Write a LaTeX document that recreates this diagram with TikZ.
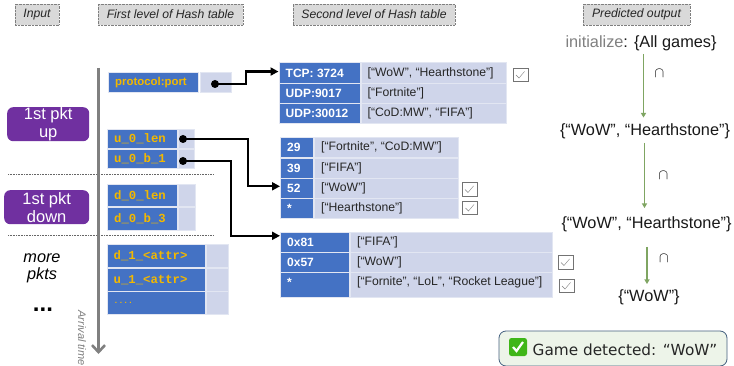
\documentclass[tikz,border=0pt]{standalone}
\usepackage{fontspec}
\setmainfont{Liberation Sans}
\newfontfamily\dejavu{DejaVu Sans}
\newfontfamily\monob{Liberation Mono}[BoldFont={Liberation Mono Bold}]
\usetikzlibrary{arrows.meta}
\definecolor{keyblue}{HTML}{4472C4}
\definecolor{cellblue}{HTML}{CFD5EA}
\definecolor{headfill}{HTML}{D9D9D9}
\definecolor{headline}{HTML}{7F7F7F}
\definecolor{pktpurple}{HTML}{7030A0}
\definecolor{keyyellow}{HTML}{F2B800}
\definecolor{flow}{HTML}{7FA562}
\definecolor{timeline}{HTML}{808080}
\definecolor{donefill}{HTML}{EDF4E9}
\definecolor{doneline}{HTML}{44607F}
\definecolor{tickgreen}{HTML}{3FB618}
\tikzset{
  header/.style={draw=headline,densely dotted,fill=headfill,font=\itshape\fontsize{12.2}{14}\selectfont,inner sep=0pt,text=black!85},
  keycell/.style={fill=keyblue,draw=cellblue!60,line width=.6pt,inner sep=0pt,anchor=north west},
  valcell/.style={fill=cellblue,draw=cellblue!60,line width=.6pt,inner sep=0pt,anchor=north west},
  keyfirst/.style={anchor=west,text=keyyellow,font=\monob\bfseries\fontsize{12.3}{13}\selectfont,inner sep=0pt},
  keysecond/.style={anchor=west,text=white,font=\bfseries\fontsize{12}{14}\selectfont,inner sep=0pt},
  valtext/.style={anchor=west,text=black!85,font=\fontsize{12.2}{14}\selectfont,inner sep=0pt},
  pkt/.style={fill=pktpurple,rounded corners=6pt,text=white,font=\fontsize{16.5}{18}\selectfont,align=center,inner sep=0pt,anchor=north west},
  tick/.style={draw=black!55,fill=white,line width=.6pt,inner sep=0pt,anchor=north west,minimum width=15pt,minimum height=13.5pt},
  link/.style={line width=2.2pt,black,-{Triangle[length=8pt,width=8pt]}},
  dot/.style={circle,fill=black,inner sep=0pt,minimum size=8pt},
  flowarrow/.style={flow,line width=1.3pt,-{Triangle[length=4.5pt,width=5pt]}},
  settext/.style={font=\fontsize{16.3}{18}\selectfont,text=black!90,inner sep=0pt},
  capsign/.style={font=\fontsize{15}{15}\selectfont,inner sep=0pt},
  sep/.style={densely dotted,black!60,line width=.6pt},
}
% \kcell{name}{x}{y}{w}{h}{box style}{text style}{pad}{text}
\newcommand{\kcell}[9]{%
  \node[#6,minimum width=#4pt,minimum height=#5pt] (#1) at (#2,#3) {};
  \node[#7] (#1t) at ([xshift=#8pt]#1.west) {#9};
}
\newcommand{\ticktick}[1]{%
  \draw[black!50,line width=.4pt] ([xshift=3.5pt,yshift=-7pt]#1.north west) -- ++(3pt,-3pt) -- ++(5.5pt,6.5pt);
}
\begin{document}
\begin{tikzpicture}[x=1pt,y=-1pt]
\useasboundingbox (0,0) rectangle (734,366);
\fill[white] (0,0) rectangle (734,366);
% headers
\node[header,minimum width=44pt,minimum height=21pt] (hinput) at (37,14.5) {Input};
\node[header,minimum width=145pt,minimum height=21pt] (hfirst) at (170.5,14.5) {First level of Hash table};
\node[header,minimum width=162pt,minimum height=21pt] (hsecond) at (374,14.5) {Second level of Hash table};
\node[header,minimum width=107pt,minimum height=21pt] (hpred) at (636.5,14.5) {Predicted output};
% separators
\coordinate (sepAl) at (8,174.5); \coordinate (sepAr) at (214,174.5);
\coordinate (sepBl) at (8,235.5); \coordinate (sepBr) at (214,235.5);
\draw[sep] (sepAl) -- (sepAr);
\draw[sep] (sepBl) -- (sepBr);
% timeline
\coordinate (timeA) at (98.5,68); \coordinate (timeB) at (98.5,354);
\draw[timeline,line width=3pt,-{Straight Barb[length=7pt,width=13pt,line width=2.6pt]}] (timeA) -- (timeB);
\node[rotate=-90,text=black!50,font=\itshape\fontsize{11}{12}\selectfont,inner sep=0pt] (arrival) at (82,338) {Arrival time};
% input
\node[pkt,minimum width=82pt,minimum height=34pt] (pktup) at (7,107) {1st pkt\\up};
\node[pkt,minimum width=85pt,minimum height=34pt] (pktdown) at (4,190) {1st pkt\\down};
\node[font=\itshape\fontsize{16.3}{17}\selectfont,align=center,inner sep=0pt] (more) at (42,268.5) {more\\pkts};
\node[font=\bfseries\fontsize{24}{24}\selectfont,inner sep=0pt] (dots) at (43,310) {...};
% first level
\kcell{fa}{108}{72}{90}{20}{keycell}{keyfirst,font=\bfseries\fontsize{11.4}{13}\selectfont}{7}{protocol:port}
\node[valcell,minimum width=31pt,minimum height=20pt] (fav) at (199.5,72) {};
\kcell{fb}{107}{129}{69.5}{19.5}{keycell}{keyfirst}{7}{u\_0\_len}
\node[valcell,minimum width=16pt,minimum height=19.5pt] (fbv) at (177.5,129) {};
\kcell{fc}{107}{149}{69.5}{19.5}{keycell}{keyfirst}{7}{u\_0\_b\_1}
\node[valcell,minimum width=16pt,minimum height=19.5pt] (fcv) at (177.5,149) {};
\kcell{fd}{107}{184}{69.5}{22.5}{keycell}{keyfirst}{7}{d\_0\_len}
\node[valcell,minimum width=17pt,minimum height=22.5pt] (fdv) at (177.5,184) {};
\kcell{fe}{107}{207}{69.5}{23}{keycell}{keyfirst}{7}{d\_0\_b\_3}
\node[valcell,minimum width=17pt,minimum height=23pt] (fev) at (177.5,207) {};
\kcell{ff}{106.5}{244}{98}{23}{keycell}{keyfirst}{7}{d\_1\_<attr>}
\node[valcell,minimum width=22pt,minimum height=23pt] (ffv) at (205.5,244) {};
\kcell{fg}{106.5}{268}{98}{23}{keycell}{keyfirst}{7}{u\_1\_<attr>}
\node[valcell,minimum width=22pt,minimum height=23pt] (fgv) at (205.5,268) {};
\kcell{fh}{106.5}{291}{98}{22.5}{keycell}{keyfirst,font=\monob\bfseries\fontsize{8}{9}\selectfont}{7}{....}
\node[valcell,minimum width=22pt,minimum height=22.5pt] (fhv) at (205.5,291) {};
% second level, table 1
\kcell{sa}{278.5}{62.5}{81}{20.5}{keycell}{keysecond}{7}{TCP: 3724}
\kcell{sav}{360.5}{62.5}{145.5}{20.5}{valcell}{valtext}{7}{[“WoW”, “Hearthstone”]}
\kcell{sb}{278.5}{83}{81}{20}{keycell}{keysecond}{7}{UDP:9017}
\kcell{sbv}{360.5}{83}{145.5}{20}{valcell}{valtext}{7}{[“Fortnite”]}
\kcell{sc}{278.5}{103}{81}{20}{keycell}{keysecond}{7}{UDP:30012}
\kcell{scv}{360.5}{103}{145.5}{20}{valcell}{valtext}{7}{[“CoD:MW”, “FIFA”]}
\node[tick] (tka) at (512.5,68) {}; \ticktick{tka}
% table 2
\kcell{ta}{280}{137.5}{33}{20}{keycell}{keysecond}{7}{29}
\kcell{tav}{314}{137.5}{144}{20}{valcell}{valtext}{7}{[“Fortnite”, “CoD:MW”]}
\kcell{tb}{280}{158}{33}{20}{keycell}{keysecond}{7}{39}
\kcell{tbv}{314}{158}{144}{20}{valcell}{valtext}{7}{[“FIFA”]}
\kcell{tc}{280}{178}{33}{20}{keycell}{keysecond}{7}{52}
\kcell{tcv}{314}{178}{144}{20}{valcell}{valtext}{7}{[“WoW”]}
\kcell{td}{280}{198}{33}{20}{keycell}{keysecond}{7}{*}
\kcell{tdv}{314}{198}{144}{20}{valcell}{valtext}{7}{[“Hearthstone”]}
\node[tick] (tkb) at (461.5,182.5) {}; \ticktick{tkb}
\node[tick] (tkc) at (462,201) {}; \ticktick{tkc}
% table 3
\kcell{ua}{280}{232}{69}{20}{keycell}{keysecond}{7}{0x81}
\kcell{uav}{350}{232}{202}{20}{valcell}{valtext}{7}{[“FIFA”]}
\kcell{ub}{280}{252}{69}{20}{keycell}{keysecond}{7}{0x57}
\kcell{ubv}{350}{252}{202}{20}{valcell}{valtext}{7}{[“WoW”]}
\node[keycell,minimum width=69pt,minimum height=25pt] (uc) at (280,272) {};
\node[keysecond] (uct) at (287,282) {*};
\node[valcell,minimum width=202pt,minimum height=25pt] (ucv) at (350,272) {};
\node[valtext] (ucvt) at (357,282) {[“Fornite”, “LoL”, “Rocket League”]};
\node[tick] (tkd) at (557.5,255.5) {}; \ticktick{tkd}
\node[tick] (tke) at (558.5,279) {}; \ticktick{tke}
% connectors
\node[dot] (da) at (215,84) {};
\node[dot] (db) at (183,139) {};
\node[dot] (dc) at (183,161) {};
\draw[link] (da.center) -- ++(31,0) |- ([yshift=1.5pt]sa.west);
\draw[link] (db.center) -- ++(65,0) |- ([yshift=2pt]tc.west);
\draw[link] (dc.center) -- ++(48,0) |- ([yshift=6.5pt]ua.west);
% predicted output
\node[settext] (pa) at (641,43.5) {\textcolor{black!50}{initialize}: \{All games\}};
\node[settext] (pb) at (645,131.5) {\{“WoW”, “Hearthstone”\}};
\node[settext] (pc) at (646.5,224) {\{“WoW”, “Hearthstone”\}};
\node[settext] (pd) at (649,297.5) {\{“WoW”\}};
\coordinate (fa1) at (643.5,54); \coordinate (fa2) at (643.5,117.5);
\coordinate (fb1) at (644.5,143); \coordinate (fb2) at (644.5,208);
\coordinate (fc1) at (647,247); \coordinate (fc2) at (647,284);
\draw[flowarrow] (fa1) -- (fa2);
\draw[flowarrow] (fb1) -- (fb2);
\draw[flowarrow] (fc1) -- (fc2);
\node[capsign] (ca) at (659.5,74) {$\cap$};
\node[capsign] (cb) at (663.5,176) {$\cap$};
\node[capsign] (cc) at (664,259) {$\cap$};
% result
\node[draw=doneline,fill=donefill,rounded corners=7pt,line width=.8pt,minimum width=228pt,minimum height=35pt,inner sep=0pt] (result) at (613,348.5) {};
\node[inner sep=0pt,anchor=west,font=\dejavu\fontsize{15.3}{17}\selectfont,text=black!85] (resultt) at (532.5,349.5) {Game detected: “WoW”};
\node[fill=tickgreen,rounded corners=2.5pt,minimum size=18pt,inner sep=0pt] (okbox) at (518,347) {};
\draw[white,line width=2.2pt] ([xshift=-5pt,yshift=0pt]okbox.center) -- ++(3.5pt,-4pt) -- ++(6.5pt,9pt);
\end{tikzpicture}
\end{document}
